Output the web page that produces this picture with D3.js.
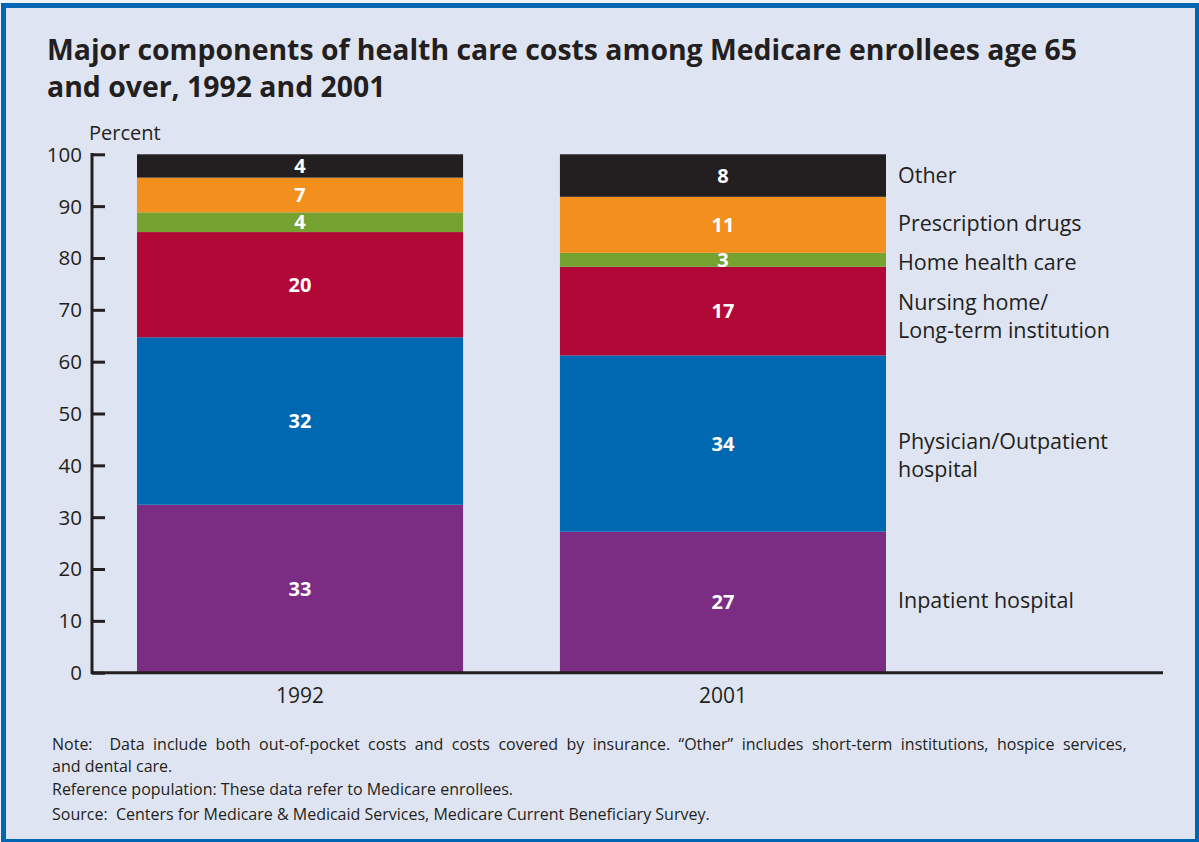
<!DOCTYPE html>
<html>
<head>
<meta charset="utf-8">
<script src="https://cdn.jsdelivr.net/npm/d3@7"></script>
<style>
  body { margin: 0; background: #eef2f9; }
  text { font-family: "Open Sans", "Noto Sans", sans-serif; fill: #231f20; }
</style>
</head>
<body>
<div id="chart"></div>
<script>
var width = 1199,
    height = 842;

// data (percent of total cost)
var years = ["1992", "2001"];
var components = ["Inpatient hospital", "Physician/Outpatient hospital", "Nursing home/Long-term institution",
                  "Home health care", "Prescription drugs", "Other"];
var values1992 = [32.4, 32.3, 20.3, 3.8, 6.7, 4.5];
var values2001 = [27.2, 34.0, 17.1, 2.7, 10.8, 8.2];
var labels1992 = ["33", "32", "20", "4", "7", "4"];
var labels2001 = ["27", "34", "17", "3", "11", "8"];
var legendLines = [["Inpatient hospital"], ["Physician/Outpatient", "hospital"], ["Nursing home/", "Long-term institution"],
                   ["Home health care"], ["Prescription drugs"], ["Other"]];
var colors = ["#7b2c83", "#0067b1", "#b20838", "#76a22f", "#f3901d", "#231f20"];
var yTicks = [0, 10, 20, 30, 40, 50, 60, 70, 80, 90, 100];

var svg = d3.select("#chart").append("svg")
    .attr("width", width)
    .attr("height", height);

// panel + blue frame
svg.append("rect")
    .attr("x", 4).attr("y", 3)
    .attr("width", width).attr("height", 838)
    .style("fill", "#dfe4f2");
svg.append("rect").attr("x", 4).attr("y", 3).attr("width", width).attr("height", 5).style("fill", "#0066b3");
svg.append("rect").attr("x", 1).attr("y", 3).attr("width", 5).attr("height", 839).style("fill", "#0066b3");
svg.append("rect").attr("x", 1).attr("y", 839).attr("width", width).attr("height", 3).style("fill", "#0066b3");
svg.append("rect").attr("x", 1195).attr("y", 3).attr("width", 4).attr("height", 839).style("fill", "#0066b3");

// title
var title = svg.append("text")
    .attr("x", 47).attr("y", 60)
    .style("font-size", "28.4px").style("font-weight", "bold");
title.append("tspan").attr("x", 47).text("Major components of health care costs among Medicare enrollees age 65");
title.append("tspan").attr("x", 47).attr("dy", 37).text("and over, 1992 and 2001");

var y = d3.scaleLinear().domain([0, 100]).range([672.7, 154.3]);
var x = d3.scaleBand().domain(years).range([137, 886]).paddingInner(0.229).paddingOuter(0);

// stacked bars
function stackYear(vals) {
    var acc = 0;
    return vals.map(function(v) { var s = [acc, acc + v]; acc += v; return s; });
}
var stacks = { "1992": stackYear(values1992), "2001": stackYear(values2001) };
var labels = { "1992": labels1992, "2001": labels2001 };

years.forEach(function(yr) {
    var g = svg.append("g").attr("class", "bar-" + yr);
    g.selectAll("rect")
        .data(stacks[yr])
        .enter()
        .append("rect")
        .attr("x", x(yr))
        .attr("width", x.bandwidth())
        .attr("y", function(d) { return y(d[1]); })
        .attr("height", function(d) { return y(d[0]) - y(d[1]); })
        .style("fill", function(d, i) { return colors[i]; });
    g.selectAll("text")
        .data(stacks[yr])
        .enter()
        .append("text")
        .attr("x", x(yr) + x.bandwidth() / 2)
        .attr("y", function(d) { return (y(d[0]) + y(d[1])) / 2; })
        .attr("dy", "0.36em")
        .attr("text-anchor", "middle")
        .style("font-size", "20px").style("font-weight", "bold")
        .style("fill", "#fff")
        .text(function(d, i) { return labels[yr][i]; });
});

// y axis
var yAxis = d3.axisRight(y).tickValues(yTicks).tickSize(13).tickFormat("");
var ya = svg.append("g").attr("transform", "translate(92,0)").call(yAxis);
ya.select(".domain").remove();
ya.selectAll("line").style("stroke", "#231f20").style("stroke-width", 3);
svg.append("line").attr("x1", 92).attr("x2", 92).attr("y1", 153).attr("y2", 674)
    .style("stroke", "#231f20").style("stroke-width", 3);
svg.selectAll(".ylab")
    .data(yTicks)
    .enter()
    .append("text")
    .attr("class", "ylab")
    .attr("x", 82)
    .attr("y", function(d) { return y(d); })
    .attr("dy", "0.36em")
    .attr("text-anchor", "end")
    .style("font-size", "20.5px")
    .text(function(d) { return d; });
svg.append("text").attr("x", 89).attr("y", 140).style("font-size", "20px").text("Percent");

// x axis
svg.append("line").attr("x1", 91).attr("x2", 1163).attr("y1", y(0)).attr("y2", y(0))
    .style("stroke", "#231f20").style("stroke-width", 3);
svg.selectAll(".xlab")
    .data(years)
    .enter()
    .append("text")
    .attr("class", "xlab")
    .attr("x", function(d) { return x(d) + x.bandwidth() / 2; })
    .attr("y", 703)
    .attr("text-anchor", "middle")
    .style("font-size", "21px")
    .text(function(d) { return d; });

// legend labels beside the 2001 bar
var legendOffset = [-2, 12, 5, 2, -2, 0];
svg.selectAll(".leg")
    .data(stacks["2001"])
    .enter()
    .append("text")
    .attr("class", "leg")
    .attr("y", function(d, i) {
        var mid = (y(d[0]) + y(d[1])) / 2 + legendOffset[i];
        return mid - (legendLines[i].length - 1) * 14;
    })
    .style("font-size", "21.5px")
    .each(function(d, i) {
        var t = d3.select(this);
        legendLines[i].forEach(function(line, j) {
            t.append("tspan").attr("x", 898).attr("dy", j === 0 ? "0.36em" : 28).text(line);
        });
    });

// notes
var notes = [
    ["Note:  Data include both out-of-pocket costs and costs covered by insurance. \u201cOther\u201d includes short-term institutions, hospice services,", 750],
    ["and dental care.", 772],
    ["Reference population: These data refer to Medicare enrollees.", 795],
    ["Source:  Centers for Medicare & Medicaid Services, Medicare Current Beneficiary Survey.", 820]
];
svg.selectAll(".note")
    .data(notes)
    .enter()
    .append("text")
    .attr("class", "note")
    .attr("x", 52)
    .attr("y", function(d) { return d[1]; })
    .style("font-size", "16px")
    .style("white-space", "pre")
    .style("word-spacing", function(d, i) { return i === 0 ? "4.3px" : "0px"; })
    .text(function(d) { return d[0]; });
</script>
</body>
</html>
